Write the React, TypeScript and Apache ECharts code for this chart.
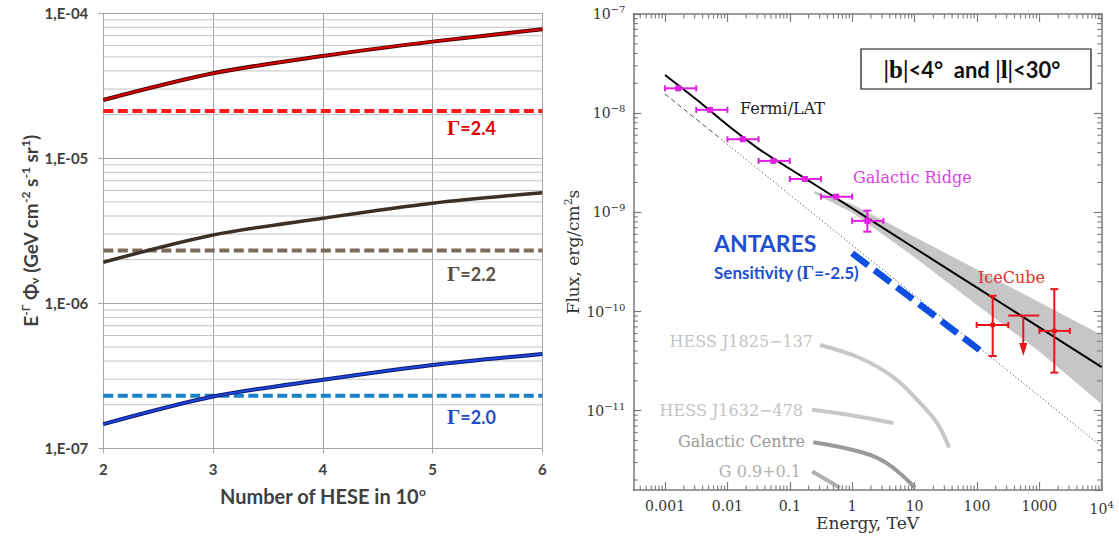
import React, { useEffect, useRef } from 'react';
import * as echarts from 'echarts';

// ---------- Left panel data ----------
const heseCounts = [2, 3, 4, 5, 6];
const fluxGamma24 = [2.52e-5, 3.85e-5, 5.07e-5, 6.37e-5, 7.74e-5];
const fluxGamma22 = [1.92e-6, 2.96e-6, 3.86e-6, 4.9e-6, 5.79e-6];
const fluxGamma20 = [1.47e-7, 2.28e-7, 2.97e-7, 3.76e-7, 4.48e-7];
const limitX = [2, 6];
const limitGamma24 = [2.12e-5, 2.12e-5];
const limitGamma22 = [2.31e-6, 2.31e-6];
const limitGamma20 = [2.31e-7, 2.31e-7];
const leftDecades = [1e-7, 1e-6, 1e-5];
const minorMultipliers = [2, 3, 4, 5, 6, 7, 8, 9];

// ---------- Right panel data ----------
const energyMin = 3.1e-4;
const energyMax = 1e4;
const fluxMin = 1.585e-12;
const fluxMax = 1e-7;
const energyDecades = [1e-4, 1e-3, 1e-2, 1e-1, 1, 10, 100, 1000];
const fluxDecades = [1e-12, 1e-11, 1e-10, 1e-9, 1e-8];
const energyTickLabels: Record<string, string> = {
  '-3': '0.001', '-2': '0.01', '-1': '0.1', '0': '1', '1': '10', '2': '100', '3': '1000', '4': '{b|10}{s|4}',
};

const fitE = [0.001, 0.00316, 0.01, 0.0316, 0.1, 0.316, 1, 10, 100, 1000, 10000];
const fitF = [2.43e-8, 1.38e-8, 7.59e-9, 4.37e-9, 2.75e-9, 1.74e-9, 1.1e-9, 4.37e-10, 1.74e-10, 6.92e-11, 2.75e-11];
const bandE = [0.25, 1, 10, 100, 1000, 10000];
const bandHi = [1.62e-9, 1.2e-9, 5.62e-10, 2.63e-10, 1.23e-10, 5.75e-11];
const bandLo = [1.55e-9, 1.0e-9, 3.55e-10, 1.17e-10, 3.98e-11, 1.17e-11];
const modelDashE = [0.001, 0.008];
const modelDashF = [1.56e-8, 5.43e-9];
const modelDotE = [0.008, 10000];
const modelDotF = [5.43e-9, 4.35e-12];

const fermiE = [1.63e-3, 5.26e-3, 1.76e-2, 5.45e-2, 0.175, 0.555, 1.75];
const fermiF = [1.78e-8, 1.08e-8, 5.46e-9, 3.3e-9, 2.17e-9, 1.44e-9, 8.2e-10];
const fermiElo = [1e-3, 3.16e-3, 1e-2, 3.16e-2, 0.1, 0.316, 1];
const fermiEhi = [3.16e-3, 1e-2, 3.16e-2, 0.1, 0.316, 1, 3.16];
const fermiFlo = [1.78e-8, 1.08e-8, 5.46e-9, 3.3e-9, 2.17e-9, 1.44e-9, 6.38e-10];
const fermiFhi = [1.78e-8, 1.08e-8, 5.46e-9, 3.3e-9, 2.17e-9, 1.44e-9, 1.04e-9];

const iceE = [179, 1738];
const iceF = [7.33e-11, 6.37e-11];
const iceElo = [99, 1000];
const iceEhi = [318, 3090];
const iceFlo = [3.56e-11, 2.42e-11];
const iceFhi = [1.44e-10, 1.68e-10];
const ulE = [553];
const ulF = [9.1e-11];
const ulElo = [318];
const ulEhi = [1000];
const ulArrowTo = [3.56e-11];

const antaresE = [1, 119];
const antaresF = [3.87e-10, 3.94e-11];

const hess1825E = [0.305, 1.33, 4.51, 12.2, 22.9, 35.9];
const hess1825F = [4.6e-11, 3.4e-11, 2.19e-11, 1.2e-11, 7.53e-12, 4.22e-12];
const hess1632E = [0.227, 1.33, 4.56];
const hess1632F = [1.02e-11, 8.7e-12, 7.5e-12];
const gcE = [0.238, 1.33, 3.57, 10.2];
const gcF = [4.81e-12, 3.85e-12, 2.96e-12, 1.67e-12];
const g09E = [0.23, 0.64];
const g09F = [2.43e-12, 1.67e-12];

const zip = (a: number[], b: number[]) => a.map((v, i) => [v, b[i]]);

const LEFT_FONT = 'Lato, "Open Sans", sans-serif';
const SERIF = '"DejaVu Serif", serif';
const GSERIF = '"Liberation Serif", serif';

function gammaLabel(x: number, y: number, value: string, col: string) {
  return {
    type: 'text', x, y, z: 50, style: {
      text: '{g|Γ}{t|=' + value + '}', verticalAlign: 'middle', align: 'left',
      rich: {
        g: { fontFamily: GSERIF, fontWeight: 'bold', fontSize: 21, fill: col },
        t: { fontFamily: LEFT_FONT, fontWeight: 'bold', fontSize: 18, fill: col },
      },
    },
  };
}

function buildOption(): any {
  const leftMinor: number[] = [];
  leftDecades.forEach((d) => minorMultipliers.forEach((m) => leftMinor.push(m * d)));
  const xMinor: number[] = [];
  energyDecades.forEach((d) => minorMultipliers.forEach((m) => {
    const v = m * d;
    if (v > energyMin && v < energyMax) xMinor.push(v);
  }));
  const yMinor: number[] = [];
  fluxDecades.forEach((d) => minorMultipliers.forEach((m) => {
    const v = m * d;
    if (v > fluxMin && v < fluxMax) yMinor.push(v);
  }));

  const seg = (x1: number, y1: number, x2: number, y2: number, stroke: string, lw: number) => ({
    type: 'line', shape: { x1, y1, x2, y2 }, style: { stroke, lineWidth: lw }, silent: true,
  });

  const errRender = (color: string, cap: number, lw: number, marker: 'square' | 'dot') => (params: any, api: any) => {
    const E = api.value(0), F = api.value(1), El = api.value(2), Eh = api.value(3), Fl = api.value(4), Fh = api.value(5);
    const c = api.coord([E, F]);
    const l = api.coord([El, F]);
    const r = api.coord([Eh, F]);
    const children: any[] = [
      seg(l[0], c[1], r[0], c[1], color, lw),
      seg(l[0], c[1] - cap, l[0], c[1] + cap, color, lw),
      seg(r[0], c[1] - cap, r[0], c[1] + cap, color, lw),
    ];
    if (Fl !== Fh) {
      const lo = api.coord([E, Fl]);
      const hi = api.coord([E, Fh]);
      children.push(seg(c[0], lo[1], c[0], hi[1], color, lw));
      children.push(seg(c[0] - cap - 1, lo[1], c[0] + cap + 1, lo[1], color, lw));
      children.push(seg(c[0] - cap - 1, hi[1], c[0] + cap + 1, hi[1], color, lw));
    }
    if (marker === 'square') {
      children.push({ type: 'rect', shape: { x: c[0] - 3, y: c[1] - 3, width: 6, height: 6 }, style: { fill: color } });
    } else {
      children.push({ type: 'circle', shape: { cx: c[0], cy: c[1], r: 2.8 }, style: { fill: color } });
    }
    return { type: 'group', children };
  };

  const supRich = {
    b: { fontFamily: SERIF, fontSize: 14, color: '#333' },
    s: { fontFamily: SERIF, fontSize: 10, color: '#333', padding: [0, 0, 9, 0] },
  };

  const greyAxis = '#a6a6a6';
  const frame = '#7a7a7a';
  const serifText = (x: number, y: number, text: string, fill: string, align = 'left') => ({
    type: 'text', x, y, z: 50, style: { text, font: '16px "DejaVu Serif", serif', fill, align, verticalAlign: 'middle' },
  });

  return {
    animation: false,
    backgroundColor: '#ffffff',
    grid: [
      { left: 103.3, top: 13.2, width: 439, height: 435.2, outerBoundsMode: 'none' },
      { left: 633.3, top: 14, width: 468.4, height: 476, outerBoundsMode: 'none' },
    ],
    xAxis: [
      {
        type: 'value', gridIndex: 0, min: 2, max: 6, interval: 1,
        axisLine: { show: true, lineStyle: { color: greyAxis, width: 1 } },
        axisTick: { show: true, length: 5, lineStyle: { color: greyAxis } },
        axisLabel: { margin: 13, fontFamily: LEFT_FONT, fontWeight: 'bold', fontSize: 15, color: '#404040' },
        splitLine: { show: true, lineStyle: { color: greyAxis, width: 1 } },
        name: '{n|Number of HESE in 10}{sp|o}', nameLocation: 'middle', nameGap: 37, nameMoveOverlap: false,
        nameTextStyle: {
          rich: {
            n: { fontFamily: LEFT_FONT, fontWeight: 'bold', fontSize: 20, color: '#404040' },
            sp: { fontFamily: LEFT_FONT, fontWeight: 'bold', fontSize: 12, color: '#404040', padding: [0, 0, 9, 0] },
          },
        },
      },
      {
        type: 'log', logBase: 10, gridIndex: 1, min: energyMin, max: energyMax,
        axisLine: { show: true, lineStyle: { color: frame, width: 1.5 } },
        axisTick: { show: true, inside: true, length: 8, lineStyle: { color: frame, width: 1.2 } },
        axisLabel: {
          margin: 9, showMinLabel: false, fontFamily: SERIF, fontSize: 14, color: '#333', rich: supRich,
          formatter: (v: number) => {
            const e = Math.log10(v);
            const r = Math.round(e);
            if (Math.abs(e - r) > 1e-6) return '';
            return energyTickLabels[String(r)] || '';
          },
        },
        splitLine: { show: false },
        name: 'Energy, TeV', nameLocation: 'middle', nameGap: 24, nameMoveOverlap: false,
        nameTextStyle: { fontFamily: SERIF, fontSize: 17, color: '#333' },
      },
      {
        type: 'log', logBase: 10, gridIndex: 1, position: 'top', min: energyMin, max: energyMax,
        axisLine: { show: true, lineStyle: { color: frame, width: 1.5 } },
        axisTick: { show: true, inside: true, length: 8, lineStyle: { color: frame, width: 1.2 } },
        axisLabel: { show: false },
        splitLine: { show: false },
      },
    ],
    yAxis: [
      {
        type: 'log', logBase: 10, gridIndex: 0, min: 1e-7, max: 1e-4,
        axisLine: { show: true, lineStyle: { color: greyAxis, width: 1 } },
        axisTick: { show: true, length: 5, lineStyle: { color: greyAxis } },
        axisLabel: {
          margin: 15, fontFamily: LEFT_FONT, fontWeight: 'bold', fontSize: 15, color: '#404040',
          formatter: (v: number) => {
            const e = Math.round(Math.log10(v));
            return '1,E-' + String(-e).padStart(2, '0');
          },
        },
        splitLine: { show: true, lineStyle: { color: greyAxis, width: 1 } },
        name: '{n|E}{sp|-Γ}{n| Φ}{sb|ν}{n| (GeV cm}{sp|-2}{n| s}{sp|-1}{n| sr}{sp|1}{n|)}',
        nameLocation: 'middle', nameRotate: 90, nameGap: 62, nameMoveOverlap: false,
        nameTextStyle: {
          rich: {
            n: { fontFamily: LEFT_FONT, fontWeight: 'bold', fontSize: 19, color: '#404040' },
            sp: { fontFamily: LEFT_FONT, fontWeight: 'bold', fontSize: 12, color: '#404040', padding: [0, 0, 10, 0] },
            sb: { fontFamily: LEFT_FONT, fontWeight: 'bold', fontSize: 12, color: '#404040', padding: [9, 0, 0, 0] },
          },
        },
      },
      {
        type: 'log', logBase: 10, gridIndex: 1, min: fluxMin, max: fluxMax,
        axisLine: { show: true, lineStyle: { color: frame, width: 1.5 } },
        axisTick: { show: true, inside: true, length: 8, lineStyle: { color: frame, width: 1.2 } },
        axisLabel: {
          margin: 8, showMinLabel: false, rich: supRich,
          formatter: (v: number) => {
            const e = Math.log10(v);
            const r = Math.round(e);
            if (Math.abs(e - r) > 1e-6) return '';
            return '{b|10}{s|\u2212' + (-r) + '}';
          },
        },
        splitLine: { show: false },
        name: '{n|Flux, erg/cm}{s|2}{n|s}', nameLocation: 'middle', nameRotate: 90, nameGap: 50, nameMoveOverlap: false,
        nameTextStyle: {
          rich: {
            n: { fontFamily: SERIF, fontSize: 17, color: '#333' },
            s: { fontFamily: SERIF, fontSize: 11, color: '#333', padding: [0, 0, 9, 0] },
          },
        },
      },
      {
        type: 'log', logBase: 10, gridIndex: 1, position: 'right', min: fluxMin, max: fluxMax,
        axisLine: { show: true, lineStyle: { color: frame, width: 1.5 } },
        axisTick: { show: true, inside: true, length: 8, lineStyle: { color: frame, width: 1.2 } },
        axisLabel: { show: false },
        splitLine: { show: false },
      },
    ],
    series: [
      // ----- left panel -----
      {
        type: 'custom', xAxisIndex: 0, yAxisIndex: 0, silent: true, z: 1,
        data: leftMinor.map((v) => [2, v]),
        renderItem: (params: any, api: any) => {
          const v = api.value(1);
          const a = api.coord([2, v]);
          const b = api.coord([6, v]);
          return seg(a[0], a[1], b[0], b[1], '#c4c4c4', 1);
        },
      },
      { type: 'line', xAxisIndex: 0, yAxisIndex: 0, data: zip(limitX, limitGamma24), symbol: 'none', lineStyle: { color: '#ff1a1a', width: 4, type: [10, 4.5] }, z: 3 },
      { type: 'line', xAxisIndex: 0, yAxisIndex: 0, data: zip(limitX, limitGamma22), symbol: 'none', lineStyle: { color: '#7b6b58', width: 4, type: [10, 4.5] }, z: 3 },
      { type: 'line', xAxisIndex: 0, yAxisIndex: 0, data: zip(limitX, limitGamma20), symbol: 'none', lineStyle: { color: '#1a80c8', width: 4, type: [10, 4.5] }, z: 3 },
      { type: 'line', xAxisIndex: 0, yAxisIndex: 0, data: zip(heseCounts, fluxGamma24), symbol: 'none', smooth: 0.3, lineStyle: { color: '#4a0000', width: 4 }, z: 4 },
      { type: 'line', xAxisIndex: 0, yAxisIndex: 0, data: zip(heseCounts, fluxGamma24), symbol: 'none', smooth: 0.3, lineStyle: { color: '#d80000', width: 2 }, z: 5 },
      { type: 'line', xAxisIndex: 0, yAxisIndex: 0, data: zip(heseCounts, fluxGamma22), symbol: 'none', smooth: 0.3, lineStyle: { color: '#3a3026', width: 3.5 }, z: 4 },
      { type: 'line', xAxisIndex: 0, yAxisIndex: 0, data: zip(heseCounts, fluxGamma20), symbol: 'none', smooth: 0.3, lineStyle: { color: '#0a1a6a', width: 4 }, z: 4 },
      { type: 'line', xAxisIndex: 0, yAxisIndex: 0, data: zip(heseCounts, fluxGamma20), symbol: 'none', smooth: 0.3, lineStyle: { color: '#1f45e0', width: 2 }, z: 5 },

      // ----- right panel -----
      {
        type: 'custom', xAxisIndex: 1, yAxisIndex: 1, silent: true, z: 1,
        data: bandE.map((e, i) => [e, bandHi[i], bandLo[i]]),
        renderItem: (params: any, api: any) => {
          const i = params.dataIndexInside;
          if (i >= params.dataInsideLength - 1) return null;
          const e0 = api.value(0, i), h0 = api.value(1, i), l0 = api.value(2, i);
          const e1 = api.value(0, i + 1), h1 = api.value(1, i + 1), l1 = api.value(2, i + 1);
          const pts = [api.coord([e0, h0]), api.coord([e1, h1]), api.coord([e1, l1]), api.coord([e0, l0])];
          return { type: 'polygon', shape: { points: pts }, style: { fill: '#c6c6c6', stroke: '#c6c6c6', lineWidth: 0.6 } };
        },
      },
      {
        type: 'custom', xAxisIndex: 1, yAxisIndex: 1, silent: true, z: 6,
        data: [...xMinor.map((v) => [v, fluxMin, 0]), ...yMinor.map((v) => [energyMin, v, 1])],
        renderItem: (params: any, api: any) => {
          const kind = api.value(2);
          if (kind === 0) {
            const v = api.value(0);
            const b = api.coord([v, fluxMin]);
            const t = api.coord([v, fluxMax]);
            return { type: 'group', children: [seg(b[0], b[1], b[0], b[1] - 4.5, frame, 1.1), seg(t[0], t[1], t[0], t[1] + 4.5, frame, 1.1)] };
          }
          const v = api.value(1);
          const l = api.coord([energyMin, v]);
          const r = api.coord([energyMax, v]);
          return { type: 'group', children: [seg(l[0], l[1], l[0] + 4.5, l[1], frame, 1.1), seg(r[0], r[1], r[0] - 4.5, r[1], frame, 1.1)] };
        },
      },
      { type: 'line', xAxisIndex: 1, yAxisIndex: 1, data: zip(modelDashE, modelDashF), symbol: 'none', lineStyle: { color: '#555', width: 1, type: [5, 3] }, z: 2 },
      { type: 'line', xAxisIndex: 1, yAxisIndex: 1, data: zip(modelDotE, modelDotF), symbol: 'none', lineStyle: { color: '#333', width: 1, type: [1, 2.5] }, z: 2 },
      { type: 'line', xAxisIndex: 1, yAxisIndex: 1, data: zip(fitE, fitF), symbol: 'none', smooth: 0.3, lineStyle: { color: '#000', width: 2 }, z: 3 },
      { type: 'line', xAxisIndex: 1, yAxisIndex: 1, data: zip(hess1825E, hess1825F), symbol: 'none', smooth: 0.4, lineStyle: { color: '#c8c8c8', width: 4 }, z: 2 },
      { type: 'line', xAxisIndex: 1, yAxisIndex: 1, data: zip(hess1632E, hess1632F), symbol: 'none', smooth: 0.4, lineStyle: { color: '#c8c8c8', width: 4 }, z: 2 },
      { type: 'line', xAxisIndex: 1, yAxisIndex: 1, data: zip(gcE, gcF), symbol: 'none', smooth: 0.4, lineStyle: { color: '#9a9a9a', width: 4 }, z: 2 },
      { type: 'line', xAxisIndex: 1, yAxisIndex: 1, data: zip(g09E, g09F), symbol: 'none', lineStyle: { color: '#b0b0b0', width: 4 }, z: 2 },
      { type: 'line', xAxisIndex: 1, yAxisIndex: 1, data: zip(antaresE, antaresF), symbol: 'none', lineStyle: { color: '#0d4fe3', width: 6.5, type: [20, 8], cap: 'butt' }, z: 4 },
      {
        type: 'custom', xAxisIndex: 1, yAxisIndex: 1, silent: true, z: 5,
        data: fermiE.map((e, i) => [e, fermiF[i], fermiElo[i], fermiEhi[i], fermiFlo[i], fermiFhi[i]]),
        renderItem: errRender('#e020e0', 3, 2, 'square'),
      },
      {
        type: 'custom', xAxisIndex: 1, yAxisIndex: 1, silent: true, z: 5,
        data: iceE.map((e, i) => [e, iceF[i], iceElo[i], iceEhi[i], iceFlo[i], iceFhi[i]]),
        renderItem: errRender('#e8141c', 3, 2, 'dot'),
      },
      {
        type: 'custom', xAxisIndex: 1, yAxisIndex: 1, silent: true, z: 5,
        data: ulE.map((e, i) => [e, ulF[i], ulElo[i], ulEhi[i], ulArrowTo[i]]),
        renderItem: (params: any, api: any) => {
          const E = api.value(0), F = api.value(1), El = api.value(2), Eh = api.value(3), Ft = api.value(4);
          const c = api.coord([E, F]);
          const l = api.coord([El, F]);
          const r = api.coord([Eh, F]);
          const t = api.coord([E, Ft]);
          const col = '#e8141c';
          return {
            type: 'group', children: [
              seg(l[0], c[1], r[0], c[1], col, 2),
              seg(c[0], c[1], c[0], t[1] - 10, col, 2),
              { type: 'polygon', shape: { points: [[c[0] - 4, t[1] - 13], [c[0] + 4, t[1] - 13], [c[0], t[1]]] }, style: { fill: col } },
            ],
          };
        },
      },
    ],
    graphic: [
      gammaLabel(447, 128, '2.4', '#e00000'),
      gammaLabel(447, 273.5, '2.2', '#5b4e44'),
      gammaLabel(447, 417, '2.0', '#1f4fc8'),
      serifText(740, 108, 'Fermi/LAT', '#222'),
      serifText(853, 177, 'Galactic Ridge', '#e040e0'),
      serifText(978, 277, 'IceCube', '#e03030'),
      serifText(813, 341, 'HESS J1825\u2212137', '#c4c4c4', 'right'),
      serifText(803, 410, 'HESS J1632\u2212478', '#c4c4c4', 'right'),
      serifText(805, 441, 'Galactic Centre', '#9a9a9a', 'right'),
      serifText(801, 471, 'G 0.9+0.1', '#b0b0b0', 'right'),
      { type: 'text', x: 714, y: 243, z: 50, style: { text: 'ANTARES', font: 'bold 23px Lato, sans-serif', fill: '#1f50d0', verticalAlign: 'middle' } },
      {
        type: 'text', x: 714, y: 272, z: 50, style: {
          text: '{a|Sensitivity (}{g|Γ}{a|=-2.5)}', verticalAlign: 'middle',
          rich: {
            a: { fontFamily: LEFT_FONT, fontWeight: 'bold', fontSize: 17, fill: '#1f50d0' },
            g: { fontFamily: GSERIF, fontWeight: 'bold', fontSize: 19, fill: '#1f50d0' },
          },
        },
      },
      { type: 'rect', z: 50, shape: { x: 861, y: 49, width: 230, height: 40 }, style: { fill: '#fff', stroke: '#111', lineWidth: 1.2 } },
      {
        type: 'text', x: 972, y: 69.5, z: 51, style: {
          text: '{s||b|}{t|<4°  and }{s||l|}{t|<30°}', align: 'center', verticalAlign: 'middle',
          rich: {
            s: { fontFamily: GSERIF, fontWeight: 'bold', fontSize: 25, fill: '#111' },
            t: { fontFamily: LEFT_FONT, fontWeight: 'bold', fontSize: 22, fill: '#111' },
          },
        },
      },
    ],
  };
}

export default function App() {
  const ref = useRef<HTMLDivElement>(null);
  useEffect(() => {
    if (!ref.current) return;
    const chart = echarts.init(ref.current, undefined, { renderer: 'svg' });
    chart.setOption(buildOption());
    return () => chart.dispose();
  }, []);
  return <div ref={ref} style={{ position: 'absolute', left: 0, top: 0, width: 1119, height: 545, background: '#fff' }} />;
}
